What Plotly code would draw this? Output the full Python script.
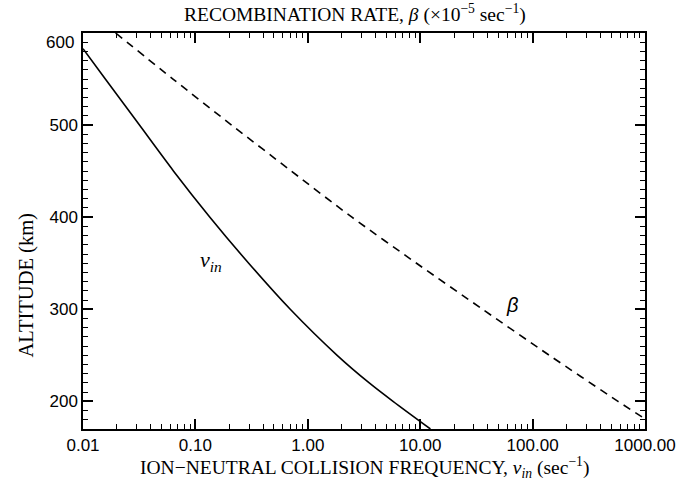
import plotly.graph_objects as go

# Ion-neutral collision frequency (sec^-1) versus altitude (km)
nu_in_freq = [0.0100, 0.0158, 0.0318, 0.0640, 0.1346, 0.298, 0.698, 1.824, 3.52, 5.73, 12.33]
nu_in_alt = [583, 550, 500, 450, 400, 350, 300, 250, 220, 200, 170]

# Recombination rate (x1e-5 sec^-1) versus altitude (km)
beta_rate = [0.0195, 0.0632, 0.210, 0.715, 2.47, 9.27, 35.9, 141, 575, 1000]
beta_alt = [600, 550, 500, 450, 400, 350, 300, 250, 200, 181]

# Tick label text
x_label_alias = {"0.1": "0.10", "1": "1.00", "10": "10.00", "100": "100.00", "1000": "1000.00"}
y_label_alias = {"600": " "}

SANS = "Liberation Sans"
SERIF = "Liberation Serif"
TICK_COLOR = "black"

fig = go.Figure()
fig.add_trace(go.Scatter(
    x=nu_in_freq, y=nu_in_alt, mode="lines",
    line=dict(color="black", width=1.6, shape="spline", smoothing=0.8),
    showlegend=False, hoverinfo="skip",
))
fig.add_trace(go.Scatter(
    x=beta_rate, y=beta_alt, mode="lines",
    line=dict(color="black", width=1.6, dash="8px,6px", shape="spline", smoothing=0.8),
    showlegend=False, hoverinfo="skip",
))

axis_common = dict(
    showgrid=False, zeroline=False,
    showline=True, linecolor="black", linewidth=1.5, mirror="allticks",
    ticks="inside", ticklen=10, tickwidth=1.5, tickcolor=TICK_COLOR,
    tickfont=dict(family=SANS, size=17, color="black"),
)

fig.update_xaxes(
    type="log", range=[-2, 3],
    tickmode="linear", tick0=0, dtick=1, exponentformat="none",
    labelalias=x_label_alias,
    minor=dict(ticks="inside", ticklen=5, tickwidth=1.2, tickcolor=TICK_COLOR,
               dtick="D1", showgrid=False),
    **axis_common,
)
fig.update_yaxes(
    range=[170, 600],
    tickmode="linear", tick0=0, dtick=100,
    labelalias=y_label_alias,
    minor=dict(ticks="inside", ticklen=5, tickwidth=1.2, tickcolor=TICK_COLOR,
               dtick=10, showgrid=False),
    **axis_common,
)

annotations = [
    # top-of-axis altitude label, set just below the frame corner
    dict(x=0, xref="paper", y=590, yref="y", text="600", showarrow=False,
         xanchor="right", xshift=-7, font=dict(family=SANS, size=17, color="black")),
    # upper axis title
    dict(x=0.484, xref="paper", y=1.05, yref="paper", yanchor="middle",
         text="RECOMBINATION RATE, <i>β</i> (×10<sup>−5</sup> sec<sup>−1</sup>)",
         showarrow=False, font=dict(family=SERIF, size=19.5, color="black")),
    # lower axis title
    dict(x=0.5, xref="paper", y=-0.097, yref="paper", yanchor="middle",
         text="ION−NEUTRAL COLLISION FREQUENCY, <i>ν<sub>in</sub></i> (sec<sup>−1</sup>)",
         showarrow=False, font=dict(family=SERIF, size=19.5, color="black")),
    # left axis title
    dict(x=-0.101, xref="paper", y=0.363, yref="paper", xanchor="center", yanchor="middle",
         text="ALTITUDE (km)", textangle=-90,
         showarrow=False, font=dict(family=SERIF, size=20.5, color="black")),
    # curve labels
    dict(x=-0.86, xref="x", y=352, yref="y", text="<i>ν</i><sub><i>in</i></sub>",
         showarrow=False, font=dict(family=SERIF, size=22, color="black")),
    dict(x=1.82, xref="x", y=305, yref="y", text="<i>β</i>",
         showarrow=False, font=dict(family=SANS, size=20, color="black")),
]

fig.update_layout(
    width=699, height=480,
    margin=dict(l=83, r=54, t=33, b=51),
    paper_bgcolor="white", plot_bgcolor="white",
    annotations=annotations,
)

fig.write_html("out.html")
